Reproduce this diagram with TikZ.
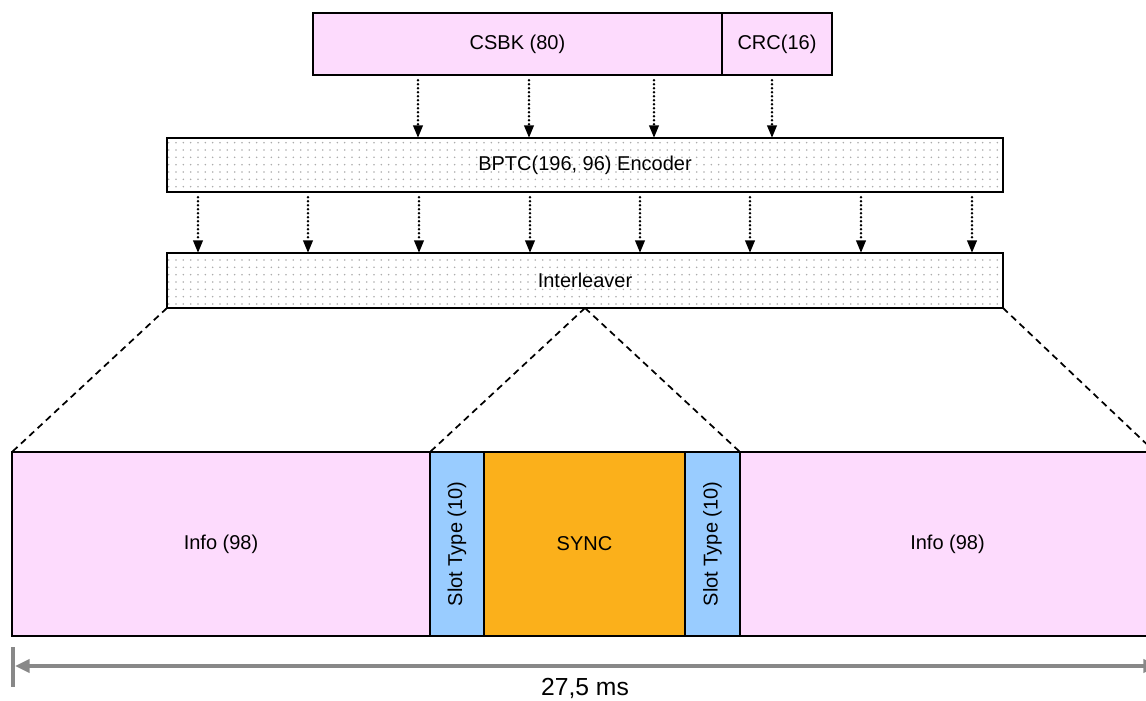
\documentclass[tikz,border=0pt]{standalone}
\usepackage{fontspec}
\setmainfont{Liberation Sans}
\usetikzlibrary{fit,arrows.meta,patterns.meta}
\definecolor{pinkc}{RGB}{253,219,253}
\definecolor{bluec}{RGB}{153,204,255}
\definecolor{orangec}{RGB}{251,176,27}
\definecolor{dimc}{RGB}{136,136,136}
\tikzset{
  cell/.style={draw=black, line width=1.3pt, inner sep=0pt, outer sep=0pt},
  pinkcell/.style={cell, fill=pinkc},
  bluecell/.style={cell, fill=bluec},
  orangecell/.style={cell, fill=orangec},
  dotcell/.style={cell, pattern={Dots[radius=0.65pt,distance=5.5pt]}, pattern color=gray!65},
  celltext/.style={font=\fontsize{15}{18}\selectfont, inner sep=0pt},
  dotarrow/.style={line width=2.1pt, dash pattern=on 0pt off 3pt, line cap=round, -{Triangle[length=9.5pt,width=7pt]}},
  zoomline/.style={line width=1.3pt, dash pattern=on 5pt off 3.5pt},
  dimline/.style={draw=dimc, line width=2.4pt},
  dimtips/.style={{Triangle[length=11pt,width=10pt]}-{Triangle[length=11pt,width=10pt]}},
  vlabel/.style={celltext, rotate=90},
}
\begin{document}
\begin{tikzpicture}[x=0.75pt, y=-0.75pt]
\path[use as bounding box, clip] (0,0) rectangle (1146,700);
% top row
\node[pinkcell, fit={(313,13)(722,75)}] (csbk) {};
\node[pinkcell, fit={(722,13)(832,75)}] (crc) {};
% coder boxes
\node[dotcell, fit={(167,138)(1003,192)}] (bptc) {};
\node[dotcell, fit={(167,253)(1003,308)}] (intl) {};
% burst
\node[pinkcell, fit={(12,452)(430,636)}] (info1) {};
\node[bluecell, fit={(430,452)(484,636)}] (slot1) {};
\node[orangecell, fit={(484,452)(685,636)}] (sync) {};
\node[bluecell, fit={(685,452)(740,636)}] (slot2) {};
\node[pinkcell, fit={(740,452)(1155,636)}] (info2) {};
% texts
\node[celltext] (csbkt) at (csbk) {CSBK (80)};
\node[celltext] (crct) at (crc) {CRC(16)};
\node[celltext] (bptct) at (bptc) {BPTC(196, 96) Encoder};
\node[celltext] (intlt) at (intl) {Interleaver};
\node[celltext] (info1t) at (info1) {Info (98)};
\node[celltext] (synct) at (sync) {SYNC};
\node[celltext] (info2t) at (info2) {Info (98)};
\node[vlabel] (slot1t) at (slot1) {Slot Type (10)};
\node[vlabel] (slot2t) at (slot2) {Slot Type (10)};
% dotted arrows
\foreach \x in {418,529,654,772}
  \draw[dotarrow, shorten <=4pt] (\x,0 |- csbk.south) -- (\x,0 |- bptc.north);
\foreach \x in {198,308,419,530,640,750,861,972}
  \draw[dotarrow, shorten <=4pt] (\x,0 |- bptc.south) -- (\x,0 |- intl.north);
% zoom lines
\draw[zoomline] (intl.south west) -- (info1.north west);
\draw[zoomline] (intl.south) -- (slot1.north west);
\draw[zoomline] (intl.south) -- (slot2.north east);
\draw[zoomline] (intl.south east) -- (info2.north east);
% dimension
\coordinate (tickt) at (13,647);
\coordinate (tickb) at (13,687);
\draw[dimline] (tickt) -- (tickb);
\coordinate (dl) at (15,666);
\coordinate (dr) at (1158,666);
\draw[dimline, dimtips, fill=dimc] (dl) -- (dr);
\node[font=\fontsize{18.5}{22}\selectfont] (dur) at (585,688) {27,5 ms};
\end{tikzpicture}
\end{document}
